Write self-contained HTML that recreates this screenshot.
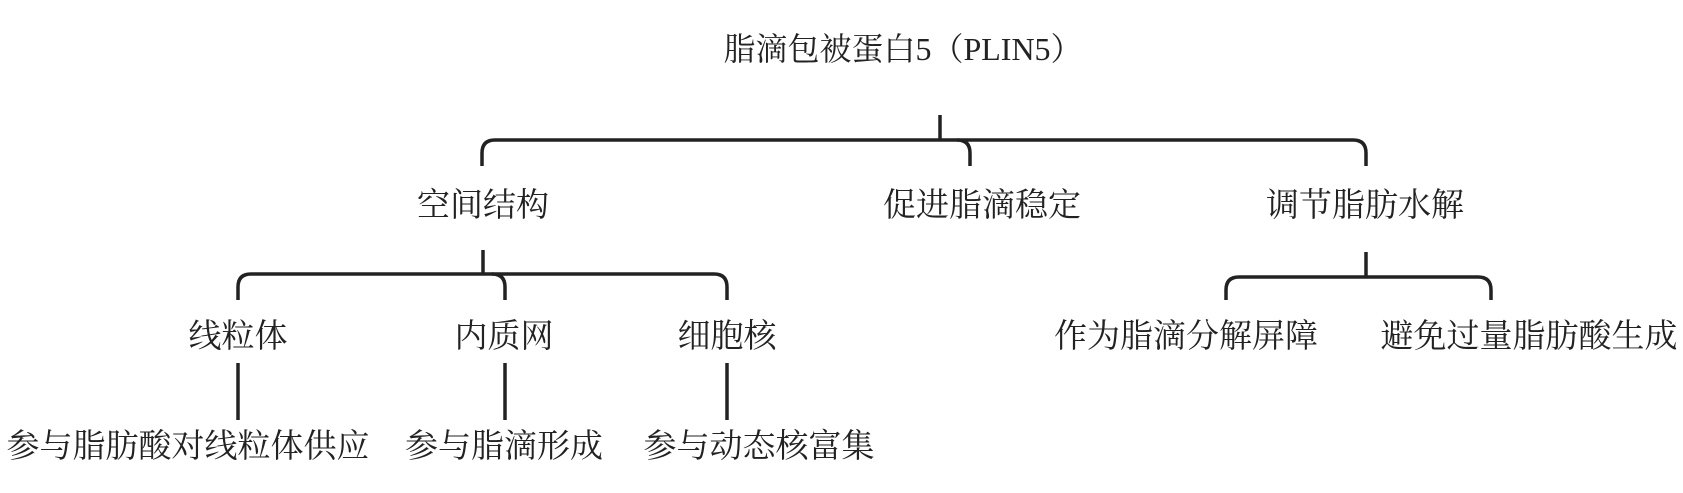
<!DOCTYPE html>
<html><head><meta charset="utf-8"><style>
html,body{margin:0;padding:0;background:#fff;width:1683px;height:493px;overflow:hidden}
svg text{font-family:"Liberation Serif","Noto Serif CJK SC","Noto Sans CJK SC",serif;fill:#222;text-anchor:middle}
</style></head><body>
<svg width="1683" height="493" viewBox="0 0 1683 493" xmlns="http://www.w3.org/2000/svg">
<g fill="none" stroke="#222" stroke-width="3.5" stroke-linecap="butt">
<path d="M940 115 V140"/>
<path d="M482 166 V153 Q482 140 495 140 H1353 Q1366 140 1366 153 V166"/>
<path d="M970 166 V153 Q970 140 957 140"/>
<path d="M483 250 V274"/>
<path d="M238 300 V287 Q238 274 251 274 H714 Q727 274 727 287 V300"/>
<path d="M505 300 V287 Q505 274 492 274"/>
<path d="M1366 252 V277"/>
<path d="M1226 300 V290 Q1226 277 1239 277 H1478 Q1491 277 1491 290 V300"/>
<path d="M238 363 V420"/>
<path d="M505 363 V420"/>
<path d="M727 363 V420"/>
</g>
<g font-size="33">
<text x="903" y="60" font-size="32">脂滴包被蛋白5（PLIN5）</text>
<text x="483" y="216">空间结构</text>
<text x="982" y="216">促进脂滴稳定</text>
<text x="1365" y="216">调节脂肪水解</text>
<text x="238" y="347">线粒体</text>
<text x="504" y="347">内质网</text>
<text x="727" y="347">细胞核</text>
<text x="1186" y="347">作为脂滴分解屏障</text>
<text x="1529" y="347">避免过量脂肪酸生成</text>
<text x="188" y="457">参与脂肪酸对线粒体供应</text>
<text x="504" y="457">参与脂滴形成</text>
<text x="759" y="457">参与动态核富集</text>
</g>
</svg>
</body></html>
